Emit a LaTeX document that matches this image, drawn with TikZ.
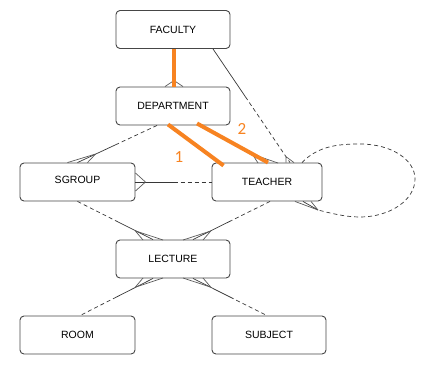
\documentclass[tikz,border=0pt]{standalone}
\usepackage{fontspec}
\setmainfont{Liberation Sans}
\newfontfamily\numfont{Carlito}
\usetikzlibrary{calc}
\definecolor{boxline}{RGB}{70,70,70}
\definecolor{relline}{RGB}{55,55,55}
\definecolor{fanline}{RGB}{90,90,90}
\definecolor{orng}{RGB}{247,131,33}
\newcommand\crowh[3]{\draw[fan] ($(#1)!#3!(#2)$) -- ([xshift=-10pt]#1) ($(#1)!#3!(#2)$) -- ([xshift=10pt]#1);}
\begin{document}
\begin{tikzpicture}[x=1pt,y=-1pt,
  ent/.style={draw=boxline, line width=0.9pt, rounded corners=4pt, fill=white, minimum height=38pt, inner sep=0pt, font=\fontsize{10.5}{12}\selectfont},
  rel/.style={draw=relline, line width=0.7pt},
  fan/.style={draw=fanline, line width=0.7pt},
  opt/.style={rel, dash pattern=on 4pt off 3pt},
  ora/.style={draw=orng, line width=4pt},
  lab/.style={text=orng, font=\numfont\fontsize{17}{19}\selectfont, inner sep=0pt}]
\useasboundingbox (0,0) rectangle (428,365);

% connectors first (boxes drawn over them)
\coordinate (ft1) at (213,48);
\coordinate (ft2) at (290,163);
\coordinate (ds1) at (157,125);
\coordinate (ds2) at (77.5,163);
\coordinate (sl1) at (77.5,201);
\coordinate (sl2) at (153,240);
\coordinate (tl1) at (270,201);
\coordinate (tl2) at (193,240);
\coordinate (lr1) at (153,278);
\coordinate (lr2) at (80,316);
\coordinate (ls1) at (193,278);
\coordinate (ls2) at (267,316);

\node[ent, minimum width=114pt] (fac) at (173,29.5) {FACULTY};
\node[ent, minimum width=114pt] (dept) at (173,106) {DEPARTMENT};
\node[ent, minimum width=115pt] (sgroup) at (77.5,182) {\raisebox{4pt}{SGROUP}};
\node[ent, minimum width=110pt] (teacher) at (267,182) {TEACHER};
\node[ent, minimum width=114pt] (lecture) at (173,259) {LECTURE};
\node[ent, minimum width=115pt] (room) at (77.5,335) {ROOM};
\node[ent, minimum width=114pt] (subject) at (269,335) {SUBJECT};

% FACULTY -- TEACHER
\draw[rel] ([xshift=40pt]fac.south) -- ($([xshift=40pt]fac.south)!0.42!([xshift=23pt]teacher.north)$);
\draw[opt] ($([xshift=40pt]fac.south)!0.42!([xshift=23pt]teacher.north)$) -- ([xshift=23pt]teacher.north);
\draw[fan] ($([xshift=23pt]teacher.north)!7pt!([xshift=40pt]fac.south)$) -- ([xshift=19pt]teacher.north)
           ($([xshift=23pt]teacher.north)!7pt!([xshift=40pt]fac.south)$) -- ([xshift=27pt]teacher.north);

% DEPARTMENT -- SGROUP
\draw[opt] ([xshift=-16pt]dept.south) -- ($([xshift=-16pt]dept.south)!0.5!(sgroup.north)$);
\draw[rel] ($([xshift=-16pt]dept.south)!0.5!(sgroup.north)$) -- (sgroup.north);
\crowh{sgroup.north}{ds1}{20pt}

% SGROUP -- LECTURE
\draw[opt] (sgroup.south) -- ($(sgroup.south)!0.5!([xshift=-20pt]lecture.north)$);
\draw[rel] ($(sgroup.south)!0.5!([xshift=-20pt]lecture.north)$) -- ([xshift=-20pt]lecture.north);
\crowh{sl2}{sl1}{20pt}

% TEACHER -- LECTURE
\draw[opt] ([xshift=3pt]teacher.south) -- ($([xshift=3pt]teacher.south)!0.5!([xshift=20pt]lecture.north)$);
\draw[rel] ($([xshift=3pt]teacher.south)!0.5!([xshift=20pt]lecture.north)$) -- ([xshift=20pt]lecture.north);
\crowh{tl2}{tl1}{20pt}

% LECTURE -- ROOM
\draw[rel] ([xshift=-20pt]lecture.south) -- ($([xshift=-20pt]lecture.south)!0.5!([xshift=2.5pt]room.north)$);
\draw[opt] ($([xshift=-20pt]lecture.south)!0.5!([xshift=2.5pt]room.north)$) -- ([xshift=2.5pt]room.north);
\crowh{lr1}{lr2}{20pt}

% LECTURE -- SUBJECT
\draw[rel] ([xshift=20pt]lecture.south) -- ($([xshift=20pt]lecture.south)!0.5!([xshift=-2pt]subject.north)$);
\draw[opt] ($([xshift=20pt]lecture.south)!0.5!([xshift=-2pt]subject.north)$) -- ([xshift=-2pt]subject.north);
\crowh{ls1}{ls2}{20pt}

% SGROUP -- TEACHER
\draw[rel] (sgroup.east) -- ($(sgroup.east)!0.5!(teacher.west)$);
\draw[opt] ($(sgroup.east)!0.5!(teacher.west)$) -- (teacher.west);
\draw[fan] ([xshift=10pt]sgroup.east) -- ([yshift=9pt]sgroup.east)
           ([xshift=10pt]sgroup.east) -- ([yshift=-9pt]sgroup.east);

% TEACHER self relationship
\coordinate (lp2) at (318,210);
\draw[opt] ([xshift=35pt]teacher.north) .. controls (318,146) and (338,144) .. (360,144)
   .. controls (392,144) and (415,160) .. (415,179)
   .. controls (415,200) and (390,217) .. (360,217)
   .. controls (345,217) and (330,213) .. (lp2);
\draw[rel] (lp2) -- ([xshift=36pt]teacher.south);
\draw[fan] (lp2) -- ([xshift=28pt]teacher.south) (lp2) -- ([xshift=44pt]teacher.south);

% DEPARTMENT -- TEACHER (crow's foot under orange line 2)
\coordinate (dt1) at (197,123);
\coordinate (dt2) at (268,163);
\crowh{dt2}{dt1}{18pt}

% FACULTY -- DEPARTMENT crow's foot
\draw[fan] ([xshift=1pt,yshift=6pt]dept.north) -- ([xshift=-8pt]dept.north)
           ([xshift=1pt,yshift=6pt]dept.north) -- ([xshift=10pt]dept.north);

% orange highlights
\draw[ora] ([xshift=1pt]fac.south) -- ([xshift=1pt]dept.north);
\draw[ora] ([xshift=-5pt,yshift=1pt]dept.south) -- ([shift={(12pt,-3pt)}]teacher.north west);
\draw[ora] ([xshift=24pt,yshift=2pt]dept.south) -- ([xshift=1pt]teacher.north);

\node[lab] (l1) at (179,157) {1};
\node[lab] (l2) at (242,129) {2};
\end{tikzpicture}
\end{document}
